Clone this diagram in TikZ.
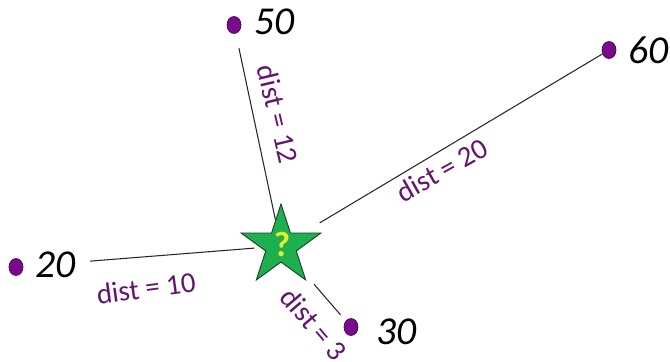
\documentclass[tikz,border=0pt]{standalone}
\usepackage{fontspec}
\setmainfont{Carlito}
\usetikzlibrary{
  positioning,
  shapes.geometric
}
\definecolor{dotpurple}{RGB}{122,10,140}
\definecolor{dotrim}{RGB}{70,0,80}
\definecolor{distpurple}{RGB}{100,20,112}
\definecolor{stargreen}{RGB}{30,176,80}
\definecolor{starrim}{RGB}{25,60,30}
\definecolor{qyellow}{RGB}{232,240,40}

\tikzset{
  pt/.style={draw=dotrim, fill=dotpurple, ellipse, inner sep=0pt, minimum width=0.28cm, minimum height=0.34cm, line width=0.4pt},
  val/.style={font=\fontsize{22.5}{24}\selectfont\itshape, inner sep=0pt},
  distlbl/.style={font=\fontsize{16.5}{18}\selectfont, text=distpurple, inner sep=0pt},
  link/.style={draw=black!85, line width=0.6pt}
}

\begin{document}
\begin{tikzpicture}[x=0.02cm, y=-0.02cm]
  \useasboundingbox (0,0) rectangle (670,362);

  % the unknown point
  \node[star, star points=5, star point ratio=2.618, minimum size=1.68cm, inner sep=0pt, draw=starrim, fill=stargreen, line width=0.5pt] (q) at (281,246) {};
  \node[font=\fontsize{20}{22}\selectfont\bfseries, text=qyellow, inner sep=0pt] (qmark) at (282,244) {?};

  % neighbours
  \node[pt] (d50) at (234,25) {};
  \node[pt] (d60) at (609,50) {};
  \node[pt] (d20) at (16,267) {};
  \node[pt] (d30) at (351,327) {};
  \node[val, right=0.26cm of d50, yshift=0.06cm] (v50) {50};
  \node[val, right=0.24cm of d60] (v60) {60};
  \node[val, right=0.24cm of d20, yshift=0.04cm] (v20) {20};
  \node[val, right=0.36cm of d30, yshift=-0.1cm] (v30) {30};

  \draw[link, shorten >=0.3cm] (q) -- (d50);
  \draw[link, shorten <=0.38cm] (q) -- (d60);
  \draw[link, shorten <=0.12cm, shorten >=1.34cm] (q) -- (d20);
  \draw[link, shorten <=0.32cm, shorten >=0.16cm] (q) -- (d30);

  \node[distlbl, rotate=-76.6] (l12) at (278,114) {dist = 12};
  \node[distlbl, rotate=29.4] (l20) at (442,170) {dist = 20};
  \node[distlbl, rotate=7.7] (l10) at (146,288) {dist = 10};
  \node[distlbl, rotate=-49.5] (l3) at (314,324) {dist = 3};
\end{tikzpicture}
\end{document}
